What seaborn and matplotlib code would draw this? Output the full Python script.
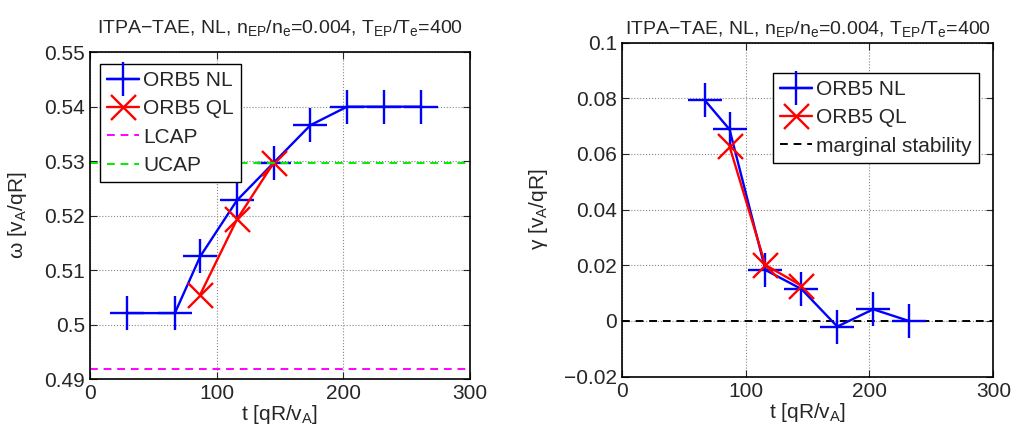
import numpy as np
import pandas as pd
import matplotlib
matplotlib.use("Agg")
import matplotlib.pyplot as plt
from matplotlib.ticker import FuncFormatter
import seaborn as sns

# frequency panel
t_nl_freq = [29, 67, 87, 116, 145, 174, 203, 232, 261]
omega_nl = [0.5021, 0.5021, 0.5125, 0.5228, 0.5297, 0.5366, 0.5400, 0.5400, 0.5400]
t_ql_freq = [87, 116, 145]
omega_ql = [0.5055, 0.5193, 0.5297]
lcap = 0.4918
ucap = 0.5296

# growth rate panel
t_nl_gr = [67, 87, 116, 145, 174, 203, 232]
gamma_nl = [0.0793, 0.0688, 0.0183, 0.0115, -0.0020, 0.0042, 0.0000]
t_ql_gr = [87, 116, 145]
gamma_ql = [0.0627, 0.0201, 0.0127]

title = r'ITPA$-$TAE, NL, n$_{EP}$/n$_{e}$=0.004, T$_{EP}$/T$_{e}$=400'

sns.set_style("ticks")
plt.rcParams['font.family'] = ['Liberation Sans', 'DejaVu Sans']
plt.rcParams['mathtext.default'] = 'regular'

fig = plt.figure(figsize=(10.16, 4.3), dpi=100)
ax1 = fig.add_axes([0.0886, 0.1186, 0.374, 0.760])
ax2 = fig.add_axes([0.612, 0.124, 0.3657, 0.777])

fmt = FuncFormatter(lambda v, p: ('%g' % round(v, 4)).replace('-', '\u2212'))

nl_kw = dict(color='blue', marker='+', markersize=24, markeredgewidth=1.7,
             markeredgecolor='blue', linewidth=1.7, sort=False)
ql_kw = dict(color='red', marker='x', markersize=18, markeredgewidth=1.7,
             markeredgecolor='red', linewidth=1.7, sort=False)
leg_kw = dict(fontsize=15, handlelength=1.55, fancybox=False, framealpha=1,
              edgecolor='black', borderpad=0.35, labelspacing=0.45, handletextpad=0.2)

nl_df = pd.DataFrame({'t': t_nl_freq, 'y': omega_nl})
ql_df = pd.DataFrame({'t': t_ql_freq, 'y': omega_ql})
sns.lineplot(data=nl_df, x='t', y='y', ax=ax1, label='ORB5 NL', **nl_kw)
sns.lineplot(data=ql_df, x='t', y='y', ax=ax1, label='ORB5 QL', **ql_kw)
ax1.axhline(lcap, color='magenta', linestyle='--', dashes=(4, 3), linewidth=1.4, label='LCAP')
ax1.axhline(ucap, color='#00ee00', linestyle='--', dashes=(4, 3), linewidth=1.4, label='UCAP')
ax1.set_xlim(0, 300)
ax1.set_ylim(0.49, 0.55)
ax1.set_yticks(np.arange(0.49, 0.5501, 0.01))
ax1.set_xticks([0, 100, 200, 300])
ax1.set_xlabel(r't [qR/v$_A$]', fontsize=15, labelpad=0)
ax1.set_ylabel(r'$\omega$ [v$_A$/qR]', fontsize=15, labelpad=11)
ax1.set_title(title, fontsize=14, pad=14)
ax1.legend(loc='upper left', bbox_to_anchor=(0.025, 0.965), borderaxespad=0, **leg_kw)

nl_df2 = pd.DataFrame({'t': t_nl_gr, 'y': gamma_nl})
ql_df2 = pd.DataFrame({'t': t_ql_gr, 'y': gamma_ql})
sns.lineplot(data=nl_df2, x='t', y='y', ax=ax2, label='ORB5 NL', **nl_kw)
sns.lineplot(data=ql_df2, x='t', y='y', ax=ax2, label='ORB5 QL', **ql_kw)
ax2.axhline(0, color='black', linestyle='--', dashes=(4, 3), linewidth=1.4,
            label='marginal stability', zorder=1)
ax2.set_xlim(0, 300)
ax2.set_ylim(-0.02, 0.1)
ax2.set_yticks(np.arange(-0.02, 0.1001, 0.02))
ax2.set_xticks([0, 100, 200, 300])
ax2.set_xlabel(r't [qR/v$_A$]', fontsize=15, labelpad=0)
ax2.set_ylabel(r'$\gamma$ [v$_A$/qR]', fontsize=15, labelpad=10)
ax2.set_title(title, fontsize=14, pad=6)
ax2.legend(loc='upper right', bbox_to_anchor=(0.962, 0.91), borderaxespad=0, **leg_kw)

for ax in (ax1, ax2):
    ax.yaxis.set_major_formatter(fmt)
    ax.xaxis.set_major_formatter(fmt)
    ax.grid(True, color='#888888', linestyle=':', linewidth=0.8)
    ax.tick_params(direction='in', top=True, right=True, labelsize=15, length=5, width=0.8)
    for s in ax.spines.values():
        s.set_visible(True)
        s.set_linewidth(1.2)
        s.set_color('black')

fig.savefig('out.png', dpi=100)
